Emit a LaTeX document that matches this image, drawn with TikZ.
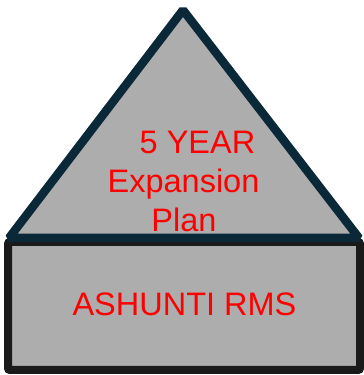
\documentclass[tikz,border=0pt]{standalone}
\usepackage{fontspec}
\setmainfont{Liberation Sans}
\definecolor{navy}{RGB}{10,40,56}
\definecolor{boxblack}{RGB}{26,26,26}
\definecolor{fillgray}{RGB}{173,173,173}
\definecolor{txtred}{RGB}{255,0,0}
\begin{document}
\begin{tikzpicture}[x=1pt,y=1pt,
  lbl/.style={anchor=base,inner sep=0pt,text=txtred,font=\fontsize{32.5}{39}\selectfont}]
\useasboundingbox (0,0) rectangle (364,375);
\draw[boxblack,line width=8pt,fill=fillgray,rounded corners=2pt] (8,5) rectangle (360,133);
\draw[navy,line width=8.5pt,fill=fillgray,line join=bevel] (183,365) -- (359,137) -- (9,137) -- cycle;
\node[lbl] (t1) at (197.5,221.7) {5 YEAR};
\node[lbl] (t2) at (183.5,182.3) {Expansion};
\node[lbl] (t3) at (184,143.3) {Plan};
\node[lbl] (t4) at (184.5,59) {ASHUNTI RMS};
\end{tikzpicture}
\end{document}
